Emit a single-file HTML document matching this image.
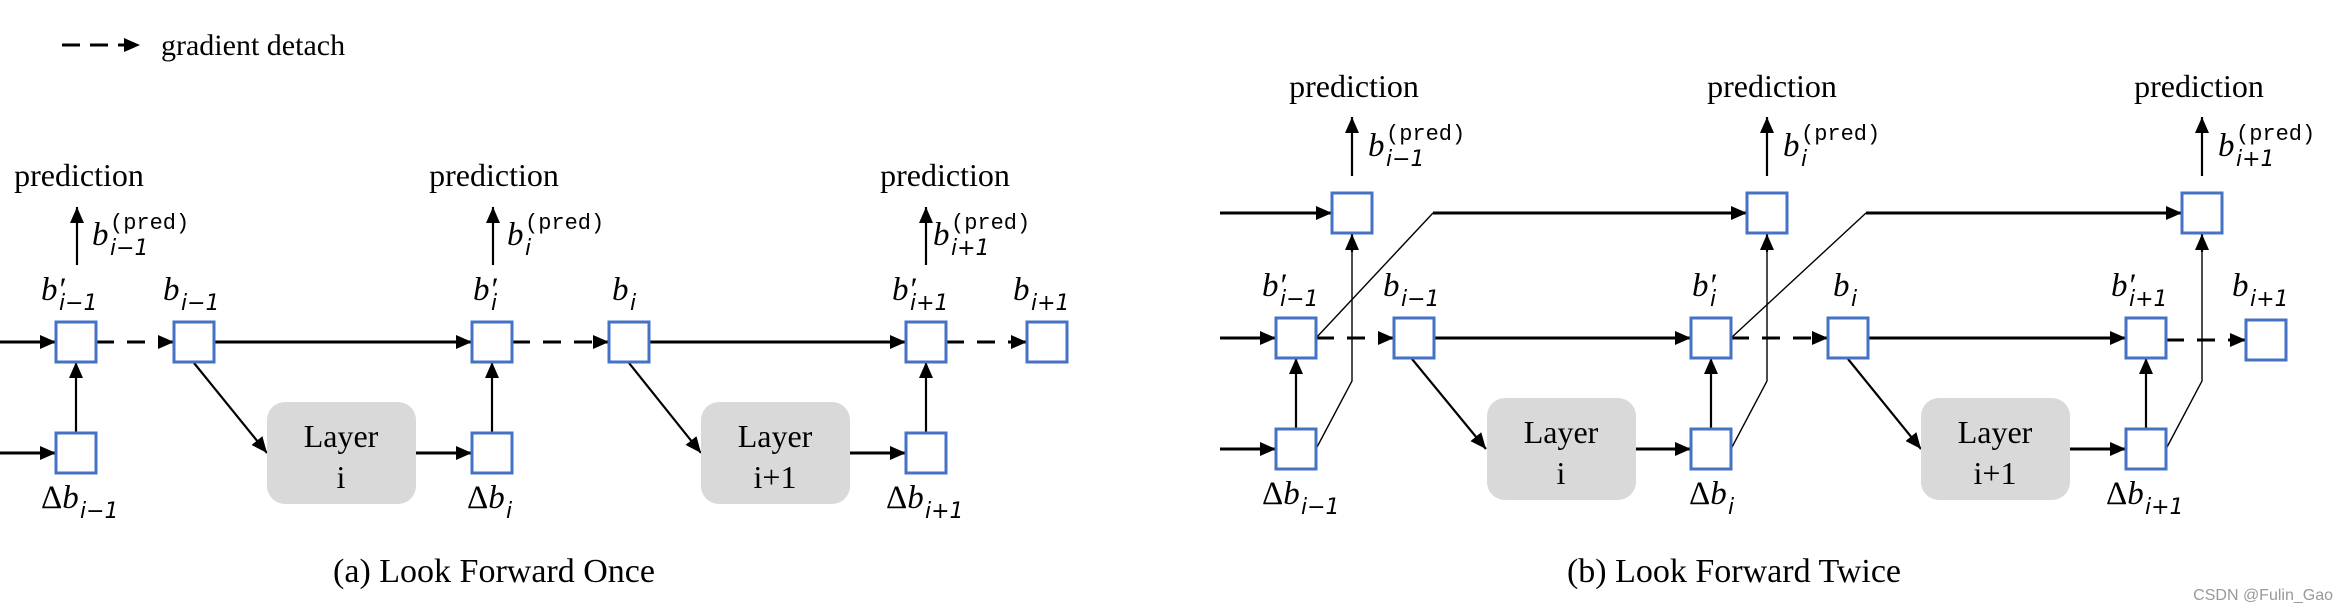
<!DOCTYPE html>
<html><head><meta charset="utf-8"><style>
html,body{margin:0;padding:0;background:#fff}
svg{display:block}
text{font-family:"Liberation Serif",serif;fill:#000}
.m{font-style:italic;font-size:33px}
.s{font-style:italic;font-size:22px;font-family:"DejaVu Sans","Liberation Sans",sans-serif}
.n{font-style:normal}
.p{font-size:22px;font-family:"Liberation Mono",monospace}
.t{font-size:32px}
.c{font-size:34px}
</style></head><body>
<svg width="2348" height="612" viewBox="0 0 2348 612" xmlns="http://www.w3.org/2000/svg">
<defs>
<marker id="a" markerUnits="userSpaceOnUse" markerWidth="16" markerHeight="16" refX="16" refY="8" orient="auto"><path d="M0,1 L16,8 L0,15 Z" fill="#000"/></marker>
</defs>
<g stroke="#000" fill="none">
<!-- legend -->
<line x1="62" y1="45" x2="140" y2="45" stroke-width="3" stroke-dasharray="18,10" marker-end="url(#a)"/>
<!-- (a) main row -->
<g stroke-width="3">
<line x1="0" y1="342" x2="56" y2="342" marker-end="url(#a)"/>
<line x1="96" y1="342" x2="174" y2="342" stroke-dasharray="18,13" marker-end="url(#a)"/>
<line x1="214" y1="342" x2="472" y2="342" marker-end="url(#a)"/>
<line x1="512" y1="342" x2="609" y2="342" stroke-dasharray="18,13" marker-end="url(#a)"/>
<line x1="649" y1="342" x2="906" y2="342" marker-end="url(#a)"/>
<line x1="946" y1="342" x2="1027" y2="342" stroke-dasharray="18,13" marker-end="url(#a)"/>
<line x1="0" y1="453" x2="56" y2="453" marker-end="url(#a)"/>
<line x1="416" y1="453" x2="472" y2="453" marker-end="url(#a)"/>
<line x1="850" y1="453" x2="906" y2="453" marker-end="url(#a)"/>
</g>
<g stroke-width="2.2">
<line x1="76" y1="433" x2="76" y2="362" marker-end="url(#a)"/>
<line x1="492" y1="433" x2="492" y2="362" marker-end="url(#a)"/>
<line x1="926" y1="433" x2="926" y2="362" marker-end="url(#a)"/>
<line x1="77" y1="265" x2="77" y2="207" marker-end="url(#a)"/>
<line x1="493" y1="265" x2="493" y2="207" marker-end="url(#a)"/>
<line x1="926" y1="265" x2="926" y2="207" marker-end="url(#a)"/>
<line x1="194" y1="363" x2="267" y2="453" marker-end="url(#a)"/>
<line x1="629" y1="363" x2="701" y2="453" marker-end="url(#a)"/>
</g>
<!-- (b) -->
<g stroke-width="3">
<line x1="1220" y1="213" x2="1332" y2="213" marker-end="url(#a)"/>
<line x1="1433" y1="213" x2="1747" y2="213" marker-end="url(#a)"/>
<line x1="1866" y1="213" x2="2182" y2="213" marker-end="url(#a)"/>
<line x1="1220" y1="338" x2="1276" y2="338" marker-end="url(#a)"/>
<line x1="1316" y1="338" x2="1394" y2="338" stroke-dasharray="18,13" marker-end="url(#a)"/>
<line x1="1433" y1="338" x2="1691" y2="338" marker-end="url(#a)"/>
<line x1="1731" y1="338" x2="1828" y2="338" stroke-dasharray="18,13" marker-end="url(#a)"/>
<line x1="1868" y1="338" x2="2126" y2="338" marker-end="url(#a)"/>
<line x1="2166" y1="340" x2="2246" y2="340" stroke-dasharray="18,13" marker-end="url(#a)"/>
<line x1="1220" y1="449" x2="1276" y2="449" marker-end="url(#a)"/>
<line x1="1636" y1="449" x2="1691" y2="449" marker-end="url(#a)"/>
<line x1="2070" y1="449" x2="2126" y2="449" marker-end="url(#a)"/>
</g>
<g stroke-width="2.2">
<line x1="1296" y1="429" x2="1296" y2="358" marker-end="url(#a)"/>
<line x1="1711" y1="429" x2="1711" y2="358" marker-end="url(#a)"/>
<line x1="2146" y1="429" x2="2146" y2="358" marker-end="url(#a)"/>
<line x1="1352" y1="176" x2="1352" y2="117" marker-end="url(#a)"/>
<line x1="1767" y1="176" x2="1767" y2="117" marker-end="url(#a)"/>
<line x1="2202" y1="176" x2="2202" y2="117" marker-end="url(#a)"/>
<line x1="1412" y1="359" x2="1486" y2="449" marker-end="url(#a)"/>
<line x1="1848" y1="359" x2="1921" y2="449" marker-end="url(#a)"/>
</g>
<g stroke-width="1.4">
<polyline points="1316,338 1433,213"/>
<polyline points="1731,338 1866,213"/>
<polyline points="1316,449 1352,381 1352,250"/>
<polyline points="1731,449 1767,381 1767,250"/>
<polyline points="2166,449 2202,381 2202,250"/>
</g>
<g stroke-width="2.2">
<line x1="1352" y1="252" x2="1352" y2="234" marker-end="url(#a)"/>
<line x1="1767" y1="252" x2="1767" y2="234" marker-end="url(#a)"/>
<line x1="2202" y1="252" x2="2202" y2="234" marker-end="url(#a)"/>
</g>
<!-- boxes -->
<g stroke="#4472C4" stroke-width="3" fill="#fff">
<rect x="56" y="322" width="40" height="40"/><rect x="174" y="322" width="40" height="40"/>
<rect x="472" y="322" width="40" height="40"/><rect x="609" y="322" width="40" height="40"/>
<rect x="906" y="322" width="40" height="40"/><rect x="1027" y="322" width="40" height="40"/>
<rect x="56" y="433" width="40" height="40"/><rect x="472" y="433" width="40" height="40"/><rect x="906" y="433" width="40" height="40"/>
<rect x="1332" y="193" width="40" height="40"/><rect x="1747" y="193" width="40" height="40"/><rect x="2182" y="193" width="40" height="40"/>
<rect x="1276" y="318" width="40" height="40"/><rect x="1394" y="318" width="40" height="40"/>
<rect x="1691" y="318" width="40" height="40"/><rect x="1828" y="318" width="40" height="40"/>
<rect x="2126" y="318" width="40" height="40"/><rect x="2246" y="320" width="40" height="40"/>
<rect x="1276" y="429" width="40" height="40"/><rect x="1691" y="429" width="40" height="40"/><rect x="2126" y="429" width="40" height="40"/>
</g>
<g fill="#d9d9d9" stroke="none">
<rect x="267" y="402" width="149" height="102" rx="18"/>
<rect x="701" y="402" width="149" height="102" rx="18"/>
<rect x="1487" y="398" width="149" height="102" rx="18"/>
<rect x="1921" y="398" width="149" height="102" rx="18"/>
</g>
</g>
<text x="161" y="55" class="t" style="font-size:30px">gradient detach</text>
<g class="t" text-anchor="middle">
<text x="79" y="186">prediction</text><text x="494" y="186">prediction</text><text x="945" y="186">prediction</text>
<text x="1354" y="97">prediction</text><text x="1772" y="97">prediction</text><text x="2199" y="97">prediction</text>
<text x="341" y="447">Layer</text><text x="341" y="488">i</text>
<text x="775" y="447">Layer</text><text x="775" y="488">i+1</text>
<text x="1561" y="443">Layer</text><text x="1561" y="484">i</text>
<text x="1995" y="443">Layer</text><text x="1995" y="484">i+1</text>
</g>
<g class="c" text-anchor="middle">
<text x="494" y="582">(a) Look Forward Once</text>
<text x="1734" y="582">(b) Look Forward Twice</text>
</g>
<text x="2333" y="600" text-anchor="end" style="font-family:'Liberation Sans',sans-serif;font-size:16px;fill:#999">CSDN @Fulin_Gao</text>
<!-- math labels (a) -->
<g>
<text x="92" y="245" class="m">b</text><text x="110" y="229" class="p">(pred)</text><text x="110" y="255" class="s">i−1</text>
<text x="507" y="245" class="m">b</text><text x="525" y="229" class="p">(pred)</text><text x="525" y="255" class="s">i</text>
<text x="933" y="245" class="m">b</text><text x="951" y="229" class="p">(pred)</text><text x="951" y="255" class="s">i+1</text>
<text x="41" y="300" class="m">b′</text><text x="59" y="310" class="s">i−1</text>
<text x="163" y="300" class="m">b</text><text x="181" y="310" class="s">i−1</text>
<text x="473" y="300" class="m">b′</text><text x="491" y="310" class="s">i</text>
<text x="612" y="300" class="m">b</text><text x="630" y="310" class="s">i</text>
<text x="892" y="300" class="m">b′</text><text x="910" y="310" class="s">i+1</text>
<text x="1013" y="300" class="m">b</text><text x="1031" y="310" class="s">i+1</text>
<text x="41" y="508" class="m"><tspan class="n">Δ</tspan>b</text><text x="80" y="518" class="s">i−1</text>
<text x="467" y="508" class="m"><tspan class="n">Δ</tspan>b</text><text x="506" y="518" class="s">i</text>
<text x="886" y="508" class="m"><tspan class="n">Δ</tspan>b</text><text x="925" y="518" class="s">i+1</text>
</g>
<!-- math labels (b) -->
<g>
<text x="1368" y="156" class="m">b</text><text x="1386" y="140" class="p">(pred)</text><text x="1386" y="166" class="s">i−1</text>
<text x="1783" y="156" class="m">b</text><text x="1801" y="140" class="p">(pred)</text><text x="1801" y="166" class="s">i</text>
<text x="2218" y="156" class="m">b</text><text x="2236" y="140" class="p">(pred)</text><text x="2236" y="166" class="s">i+1</text>
<text x="1262" y="296" class="m">b′</text><text x="1280" y="306" class="s">i−1</text>
<text x="1383" y="296" class="m">b</text><text x="1401" y="306" class="s">i−1</text>
<text x="1692" y="296" class="m">b′</text><text x="1710" y="306" class="s">i</text>
<text x="1833" y="296" class="m">b</text><text x="1851" y="306" class="s">i</text>
<text x="2111" y="296" class="m">b′</text><text x="2129" y="306" class="s">i+1</text>
<text x="2232" y="296" class="m">b</text><text x="2250" y="306" class="s">i+1</text>
<text x="1262" y="504" class="m"><tspan class="n">Δ</tspan>b</text><text x="1301" y="514" class="s">i−1</text>
<text x="1689" y="504" class="m"><tspan class="n">Δ</tspan>b</text><text x="1728" y="514" class="s">i</text>
<text x="2106" y="504" class="m"><tspan class="n">Δ</tspan>b</text><text x="2145" y="514" class="s">i+1</text>
</g>
</svg>
</body></html>
